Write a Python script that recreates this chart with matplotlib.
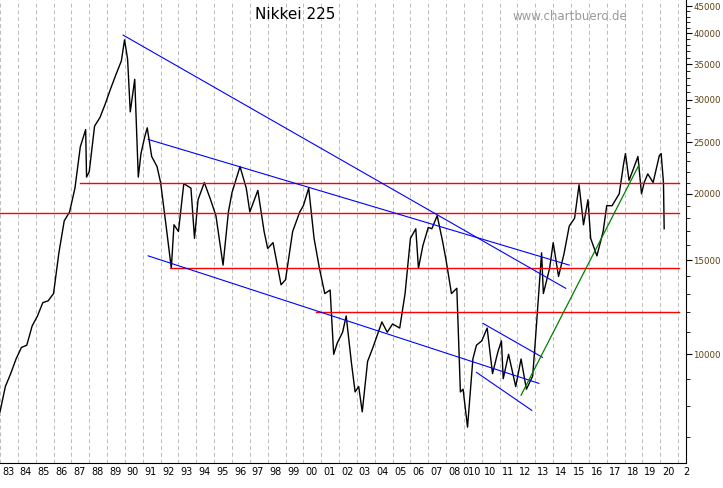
import matplotlib
matplotlib.use("Agg")
import matplotlib.pyplot as plt
from matplotlib.ticker import FixedLocator, NullFormatter

# Nikkei 225 (approximate)
dates = [1983.0,1983.3,1983.6,1983.9,1984.2,1984.5,1984.8,1985.1,1985.4,1985.7,1986.0,1986.3,1986.6,1986.9,
 1987.2,1987.5,1987.8,1987.85,1988.0,1988.3,1988.6,1988.9,1989.2,1989.5,1989.8,1989.98,1990.15,1990.3,
 1990.55,1990.75,1990.9,1991.1,1991.25,1991.5,1991.8,1992.0,1992.3,1992.6,1992.75,1993.0,1993.3,1993.7,
 1993.9,1994.1,1994.45,1994.8,1995.1,1995.5,1995.8,1996.0,1996.45,1996.8,1997.0,1997.45,1997.8,1998.0,
 1998.3,1998.75,1999.0,1999.4,1999.8,2000.0,2000.3,2000.6,2000.9,2001.2,2001.5,2001.7,2001.9,2002.2,
 2002.4,2002.7,2002.9,2003.1,2003.3,2003.6,2003.9,2004.2,2004.4,2004.7,2005.0,2005.4,2005.7,2006.0,
 2006.3,2006.45,2006.7,2007.0,2007.2,2007.5,2007.8,2008.0,2008.3,2008.6,2008.8,2008.95,2009.2,2009.5,
 2009.7,2010.0,2010.3,2010.6,2010.9,2011.1,2011.2,2011.5,2011.9,2012.2,2012.5,2012.85,2013.0,2013.35,
 2013.45,2013.8,2014.0,2014.3,2014.6,2014.9,2015.2,2015.45,2015.7,2015.95,2016.1,2016.45,2016.8,2017.0,
 2017.3,2017.7,2017.95,2018.05,2018.25,2018.5,2018.75,2018.95,2019.1,2019.3,2019.6,2019.95,2020.05,2020.18,2020.22]
values = [7800,8700,9200,9800,10300,10400,11300,11800,12500,12600,13000,15500,17800,18500,
 20500,24500,26400,21500,22000,26800,27800,29500,31500,33500,35500,38900,35800,28500,
 32800,21500,23800,25500,26600,23500,22500,21000,17500,14500,17500,17000,20900,20500,
 16500,19500,21000,19500,18200,14700,18500,20100,22500,20500,18500,20300,17000,15800,
 16200,13500,13800,17000,18500,19000,20500,16500,14500,13000,13200,10000,10500,11000,
 11800,9600,8500,8700,7800,9700,10300,11000,11500,11000,11400,11200,13000,16500,
 17200,14500,16000,17300,17200,18200,16300,15000,13000,13300,8500,8600,7300,9800,
 10400,10600,11200,9200,10100,10600,9000,10000,8700,9800,8600,9100,10600,15500,
 13000,14500,16200,14000,15400,17400,18000,20800,17500,19500,16500,15300,17000,19000,
 19000,20000,22800,23800,21200,22300,23500,20000,21000,21800,21000,23600,23800,21000,17200]

red_levels = [21000, 18400, 14500, 12000]
red_starts = [1987.5, 1983.0, 1992.5, 2000.7]
blue_lines = [((1989.9, 39700), (2014.7, 13300)),
              ((1991.3, 25300), (2014.9, 14700)),
              ((1991.3, 15300), (2013.2, 8820)),
              ((2010.06, 11430), (2013.4, 9870)),
              ((2009.7, 9250), (2012.8, 7850))]
green_line = ((2012.2, 8380), (2018.8, 22640))

year_labels = ["83","84","85","86","87","88","89","90","91","92","93","94","95","96","97","98","99",
               "00","01","02","03","04","05","06","07","08","010","10","11","12","13","14","15",
               "16","17","18","19","20","2"]

fig = plt.figure(figsize=(7.23, 4.88), dpi=100)
ax = fig.add_axes([0.0, 0.051, 0.949, 0.949])
ax.set_yscale("log")
x0, x1 = 1983.0, 1983.0 + 685/18
ax.set_xlim(x0, x1)
ax.set_ylim(6250, 46200)

for i in range(len(year_labels)):
    ax.axvline(1983 + i, color="#bbbbbb", lw=0.7, ls=(0, (4, 3)), zorder=0)

ax.plot(dates, values, color="black", lw=1.0, zorder=3)
for lv, st in zip(red_levels, red_starts):
    ax.plot([st, x1], [lv, lv], color="red", lw=1.0, zorder=4)
for (a, b) in blue_lines:
    ax.plot([a[0], b[0]], [a[1], b[1]], color="blue", lw=0.8, zorder=4)
ax.plot([green_line[0][0], green_line[1][0]], [green_line[0][1], green_line[1][1]], color="green", lw=0.9, zorder=4)

ax.yaxis.tick_right()
major = [10000, 15000, 20000, 25000, 30000, 35000, 40000, 45000]
ax.yaxis.set_major_locator(FixedLocator(major))
ax.yaxis.set_minor_locator(FixedLocator(list(range(7000, 46000, 1000))))
ax.yaxis.set_minor_formatter(NullFormatter())
ax.set_yticklabels([str(m) for m in major], fontsize=6.2, color="#5a4010")
ax.tick_params(axis="y", which="major", length=4, direction="out", pad=1)
ax.tick_params(axis="y", which="minor", length=3, direction="out")
ax.set_xticks([1983 + i + 0.45 for i in range(len(year_labels))])
ax.set_xticklabels(year_labels, fontsize=7)
ax.tick_params(axis="x", length=0, pad=3)
for s in ["top", "left"]:
    ax.spines[s].set_visible(False)

ax.text(0.43, 0.968, "Nikkei 225", transform=ax.transAxes, ha="center", va="center", fontsize=11)
ax.text(0.83, 0.965, "www.chartbuero.de", transform=ax.transAxes, ha="center", va="center",
        fontsize=8.5, color="#999999")

fig.savefig("out.png", dpi=100)
